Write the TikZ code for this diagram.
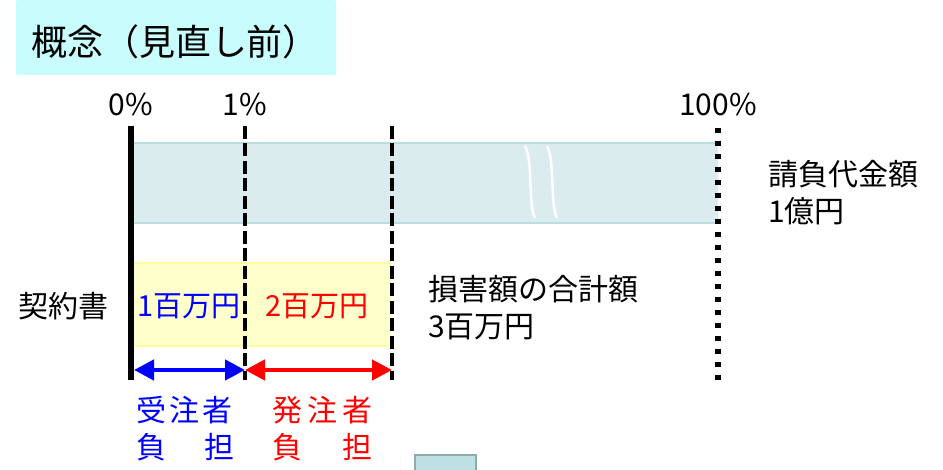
\documentclass[tikz,border=0pt]{standalone}
\usepackage{fontspec}
\setmainfont{Noto Sans CJK JP}
\usetikzlibrary{arrows.meta}
\definecolor{titlebg}{HTML}{C8FCFD}
\definecolor{bandfill}{HTML}{DAECEE}
\definecolor{bandline}{HTML}{BADDE0}
\definecolor{yelfill}{HTML}{FFFFCC}
\definecolor{yelline}{HTML}{FFFF99}
\definecolor{boxfill}{HTML}{BCE0E3}
\definecolor{boxline}{HTML}{8FAAAC}
\tikzset{
  lbl/.style={inner sep=0pt, font=\fontsize{29}{36}\selectfont},
  pct/.style={inner sep=0pt, font=\fontsize{30}{36}\selectfont},
  txt/.style={inner sep=0pt, anchor=west, align=left, font=\fontsize{30}{37}\selectfont},
  dashline/.style={line width=4pt, dash pattern=on 13pt off 4.5pt},
  dotline/.style={line width=5.5pt, dash pattern=on 5.5pt off 7.5pt},
  dblarrow/.style={line width=4.5pt, {Triangle[length=20pt,width=20pt]}-{Triangle[length=20pt,width=20pt]}}
}
\begin{document}
\begin{tikzpicture}[x=1pt,y=-1pt]
\useasboundingbox (0,0) rectangle (943,470);
% title
\node[fill=titlebg, rounded corners=2pt, minimum width=320pt, minimum height=75pt, inner sep=0pt] (title) at (176,37.5) {};
\node[inner sep=0pt, font=\fontsize{36}{40}\selectfont] (titletext) at (175,42) {概念（見直し前）};
% band
\fill[bandfill] (134,142) rectangle (718,224);
\draw[bandline, line width=2pt] (134,143) -- (718,143);
\draw[bandline, line width=2pt] (134,223) -- (718,223);
\draw[white, line width=2.5pt] (525,146) .. controls (533,160) and (528,205) .. (535,218);
\draw[white, line width=2.5pt] (547,146) .. controls (555,160) and (550,205) .. (557,218);
% yellow box
\fill[yelfill] (134,262) rectangle (392,347);
\draw[yelline, line width=2pt] (134,263) -- (392,263);
\draw[yelline, line width=2pt] (134,346) -- (392,346);
% percent labels
\node[pct] (p0) at (131,105) {0\%};
\node[pct] (p1) at (245,105) {1\%};
\node[pct] (p100) at (718,105) {100\%};
% vertical lines
\coordinate (l0t) at (131,126); \coordinate (l0b) at (131,380);
\coordinate (l1t) at (245,126); \coordinate (l1b) at (245,380);
\coordinate (l2t) at (392,126); \coordinate (l2b) at (392,380);
\coordinate (l3t) at (718,128); \coordinate (l3b) at (718,382);
\draw[line width=6.5pt] (l0t) -- (l0b);
\draw[dashline] (l1t) -- (l1b);
\draw[dashline] (l2t) -- (l2b);
\draw[dotline] (l3t) -- (l3b);
% amounts
\node[lbl, text=blue] (a1) at (189,306) {1百万円};
\node[lbl, text=red] (a2) at (317,306) {2百万円};
\node[txt] (kei) at (18,306) {契約書};
\node[txt] (songa) at (428,308) {損害額の合計額\\3百万円};
\node[txt] (ukeoi) at (768,193) {請負代金額\\1億円};
% arrows
\coordinate (ar0) at (134,370);
\coordinate (ar1) at (245,370);
\coordinate (ar2) at (392,370);
\draw[dblarrow, blue] (ar0) -- (ar1);
\draw[dblarrow, red] (ar1) -- (ar2);
% burden labels
\node[txt, text=blue] (jyu) at (136,429) {受\hspace{3pt}注\hspace{3pt}者\\負\hspace{38pt}担};
\node[txt, text=red] (hatsu) at (272,429) {発\hspace{5pt}注\hspace{5pt}者\\負\hspace{40pt}担};
% small box
\draw[fill=boxfill, draw=boxline, line width=2.5pt] (415,455) rectangle (476,475);
\end{tikzpicture}
\end{document}
